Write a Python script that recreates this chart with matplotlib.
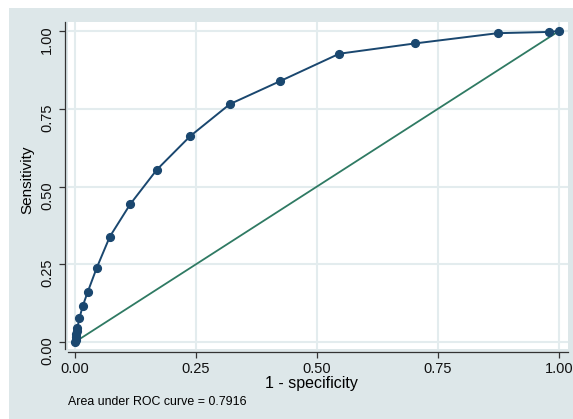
import matplotlib.pyplot as plt
from matplotlib.patches import Rectangle

# ROC points (1 - specificity, sensitivity)
fpr = [0.0, 0.001, 0.002, 0.003, 0.004, 0.005, 0.009, 0.016, 0.026, 0.045,
       0.072, 0.114, 0.169, 0.238, 0.320, 0.424, 0.546, 0.702, 0.873, 0.979, 1.0]
tpr = [0.0, 0.008, 0.016, 0.025, 0.035, 0.046, 0.076, 0.116, 0.160, 0.239,
       0.339, 0.443, 0.554, 0.662, 0.765, 0.839, 0.927, 0.960, 0.993, 0.997, 1.0]
ticks = [0.0, 0.25, 0.5, 0.75, 1.0]
tick_labels = ["0.00", "0.25", "0.50", "0.75", "1.00"]
auc_note = "Area under ROC curve = 0.7916"

W, H = 573, 419
bg = "#dde7e9"
grid_col = "#e3ecee"
navy = "#1a476f"
green = "#2f7a63"

plt.rcParams["font.family"] = ["Liberation Sans", "DejaVu Sans"]

fig = plt.figure(figsize=(W / 100, H / 100), dpi=100)
fig.patch.set_facecolor("white")
fig.patches.append(Rectangle((9 / W, 0), 1, (H - 8) / H, transform=fig.transFigure,
                             facecolor=bg, edgecolor="none", zorder=-5))

ax = fig.add_axes([68 / W, (H - 349) / H, 500 / W, 327 / H])
ax.set_facecolor("white")

ax.plot([0, 1], [0, 1], color=green, linewidth=1.3, zorder=3)
ax.plot(fpr, tpr, color=navy, linewidth=1.4, marker="o", markersize=5.6, zorder=4)

ax.set_xlim(-0.0145, 1.0186)
ax.set_ylim(-0.0225, 1.029)
ax.set_xticks(ticks)
ax.set_xticklabels(tick_labels)
ax.set_yticks(ticks)
ax.set_yticklabels(tick_labels)
ax.tick_params(axis="both", direction="out", length=4, width=0.9, color="#333333",
               labelsize=10.5, labelcolor="#111111")
ax.tick_params(axis="x", pad=3)
ax.tick_params(axis="y", pad=4, labelrotation=90)
for lbl in ax.get_yticklabels():
    lbl.set_va("center")
ax.grid(True, color=grid_col, linewidth=1.5)
ax.set_axisbelow(True)

for side in ("top", "right"):
    ax.spines[side].set_visible(False)
for side in ("left", "bottom"):
    ax.spines[side].set_position(("outward", 2))
    ax.spines[side].set_color("#333333")
    ax.spines[side].set_linewidth(0.9)

ax.set_xlabel("1 - specificity", fontsize=11.5)
ax.set_ylabel("Sensitivity", fontsize=11)
ax.xaxis.set_label_coords(0.486, -0.082)
ax.yaxis.set_label_coords(-0.068, 0.517)

fig.text(68 / W, 1 - 402 / H, auc_note, fontsize=8.9, va="center", ha="left")

fig.savefig("out.png", dpi=100, facecolor=fig.get_facecolor())
